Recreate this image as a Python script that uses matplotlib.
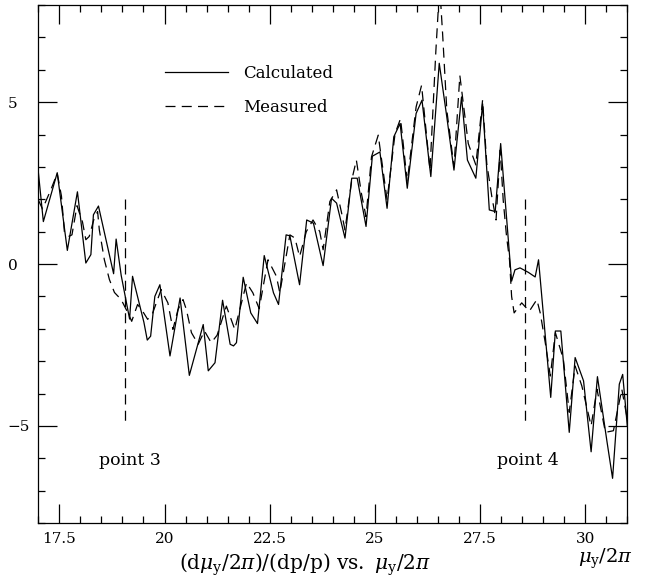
import matplotlib
matplotlib.use("Agg")
import matplotlib.pyplot as plt
from matplotlib.ticker import MultipleLocator
from matplotlib.lines import Line2D

plt.rcParams['font.family'] = ['DejaVu Serif']
plt.rcParams['mathtext.fontset'] = 'dejavuserif'

# calculated (solid)
calc_x = [17.00, 17.12, 17.45, 17.69, 17.93, 18.13, 18.25, 18.31, 18.43, 18.79,
          18.85, 18.97, 19.17, 19.24, 19.51, 19.59, 19.67, 19.77, 19.89, 20.13,
          20.37, 20.59, 20.92, 21.04, 21.20, 21.38, 21.56, 21.64, 21.71, 21.87,
          22.05, 22.21, 22.37, 22.59, 22.71, 22.89, 22.98, 23.21, 23.38, 23.54,
          23.77, 23.97, 24.09, 24.29, 24.45, 24.58, 24.79, 24.94, 25.12, 25.29,
          25.45, 25.60, 25.77, 25.98, 26.12, 26.33, 26.53, 26.71, 26.88, 27.06,
          27.20, 27.40, 27.56, 27.72, 27.86, 27.99, 28.25, 28.33, 28.45, 28.65,
          28.81, 28.89, 29.18, 29.29, 29.42, 29.62, 29.76, 29.96, 30.14, 30.29,
          30.52, 30.65, 30.81, 30.89, 31.00]
calc_y = [2.85, 1.31, 2.82, 0.42, 2.23, 0.03, 0.29, 1.52, 1.79, -0.30,
          0.77, -0.35, -1.70, -0.38, -1.80, -2.35, -2.23, -1.00, -0.64, -2.84,
          -1.05, -3.44, -1.87, -3.30, -3.05, -1.12, -2.48, -2.53, -2.43, -0.41,
          -1.51, -1.84, 0.26, -0.89, -1.25, 0.90, 0.87, -0.64, 1.36, 1.26,
          -0.05, 2.03, 1.88, 0.80, 2.65, 2.65, 1.16, 3.33, 3.46, 1.72,
          3.93, 4.34, 2.34, 4.65, 5.06, 2.70, 6.20, 4.54, 2.90, 5.16,
          3.21, 2.65, 4.95, 1.67, 1.62, 3.72, -0.53, -0.18, -0.12, -0.26,
          -0.40, 0.13, -4.12, -2.07, -2.07, -5.20, -2.89, -3.61, -5.80, -3.48,
          -5.51, -6.62, -3.71, -3.41, -5.00]

# measured (dashed)
meas_x = [17.00, 17.10, 17.30, 17.45, 17.55, 17.62, 17.72, 17.80, 17.92, 18.05,
          18.13, 18.21, 18.33, 18.41, 18.45, 18.57, 18.69, 18.81, 18.97, 19.13,
          19.22, 19.36, 19.48, 19.60, 19.72, 19.92, 20.08, 20.20, 20.32, 20.44,
          20.52, 20.64, 20.80, 20.95, 21.11, 21.25, 21.47, 21.67, 21.95, 22.10,
          22.25, 22.46, 22.66, 22.74, 22.98, 23.10, 23.21, 23.37, 23.53, 23.69,
          23.77, 23.93, 24.09, 24.21, 24.29, 24.45, 24.56, 24.68, 24.79, 24.92,
          25.08, 25.29, 25.48, 25.61, 25.77, 25.98, 26.11, 26.31, 26.45, 26.54,
          26.61, 26.71, 26.88, 27.02, 27.22, 27.40, 27.56, 27.66, 27.78, 27.88,
          27.98, 28.05, 28.13, 28.20, 28.25, 28.31, 28.49, 28.67, 28.85, 28.93,
          29.05, 29.17, 29.29, 29.48, 29.62, 29.76, 29.92, 30.14, 30.28, 30.48,
          30.67, 30.87, 31.00]
meas_y = [1.98, 1.70, 2.30, 2.80, 2.10, 1.00, 0.85, 0.90, 1.80, 1.30,
          0.75, 0.85, 1.42, 1.62, 1.06, 0.13, -0.48, -0.88, -1.10, -1.51,
          -1.77, -1.25, -1.46, -1.71, -1.51, -0.79, -1.20, -2.02, -1.41, -1.10,
          -1.41, -2.12, -2.48, -2.07, -2.43, -2.20, -1.30, -2.02, -0.58, -0.89,
          -1.38, 0.13, -0.38, -0.89, 0.90, 0.80, 0.23, 1.00, 1.36, 1.00,
          0.44, 1.93, 2.29, 1.57, 1.05, 2.59, 3.21, 2.18, 1.46, 3.31,
          3.98, 1.98, 4.03, 4.49, 2.54, 4.85, 5.52, 2.90, 6.59, 8.60,
          7.11, 4.75, 3.00, 5.82, 3.72, 3.06, 5.06, 3.10, 2.08, 1.36,
          3.52, 1.98, 0.85, 0.13, -1.00, -1.51, -1.20, -1.46, -1.10, -1.51,
          -2.43, -3.46, -2.12, -2.94, -4.58, -3.15, -3.77, -5.00, -3.87, -5.20,
          -5.15, -3.87, -4.79]

point_x = [19.05, 28.57]
point_names = ["point 3", "point 4"]
point_label_x = [19.17, 28.64]

fig = plt.figure(figsize=(6.47, 5.77), dpi=100)
ax = fig.add_axes([38.3/647, 1-523/577, 589/647, 518/577])

ax.plot(calc_x, calc_y, color='black', lw=0.9)
ax.plot(meas_x, meas_y, color='black', lw=0.9, dashes=(8, 5))

for px, name, lx in zip(point_x, point_names, point_label_x):
    ax.plot([px, px], [2.0, -5.0], color='black', lw=0.9, dashes=(8, 5))
    ax.text(lx, -6.08, name, ha='center', va='center', fontsize=12.5)

ax.set_xlim(17, 31)
ax.set_ylim(-8, 8)
ax.xaxis.set_major_locator(MultipleLocator(2.5))
ax.xaxis.set_minor_locator(MultipleLocator(0.5))
ax.yaxis.set_major_locator(MultipleLocator(5))
ax.yaxis.set_minor_locator(MultipleLocator(1))
ax.tick_params(which='both', direction='in', top=True, right=True, width=0.9, labelsize=11)
ax.tick_params(which='major', length=14)
ax.tick_params(which='minor', length=5)
ax.tick_params(axis='x', pad=6.5)
ax.tick_params(axis='y', pad=22)
ax.set_xticks([17.5, 20, 22.5, 25, 27.5, 30])
ax.set_xticklabels(["17.5", "20", "22.5", "25", "27.5", "30"])
for lab in ax.get_yticklabels():
    lab.set_horizontalalignment('left')
for s in ax.spines.values():
    s.set_linewidth(0.9)

handles = [Line2D([], [], color='black', lw=0.9),
           Line2D([], [], color='black', lw=0.9, dashes=(8, 5))]
ax.legend(handles, ["Calculated", "Measured"], loc='upper left',
          bbox_to_anchor=((165-38.3)/589, (523-64.5)/518), frameon=False,
          fontsize=12, handlelength=3.8, handletextpad=0.9, labelspacing=1.04,
          borderpad=0, borderaxespad=0)

fig.text(305/647, 1-565/577, r"$(\mathrm{d}\mu_\mathrm{y}/2\pi)/(\mathrm{dp/p})\ \mathrm{vs.}\ \mu_\mathrm{y}/2\pi$",
         ha='center', va='center', fontsize=14.5)
fig.text(605/647, 1-559/577, r"$\mu_\mathrm{y}/2\pi$", ha='center', va='center', fontsize=14)

fig.savefig("out.png", dpi=100)
